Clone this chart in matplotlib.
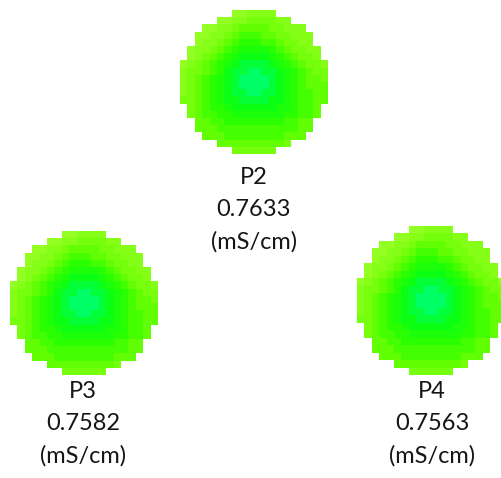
import matplotlib.pyplot as plt
import numpy as np
from matplotlib.colors import LinearSegmentedColormap

# probe names and measured conductivity
probes = ['P2', 'P3', 'P4']
conductivity = [0.7633, 0.7582, 0.7563]
unit = '(mS/cm)'

# cell levels of the conductivity map (0 = edge, 9 = centre, '.' = outside the disc)
map_rows = [
    ".......001111.......",
    ".....0011222211.....",
    "...00112333322111...",
    "..0011234443322111..",
    "..0112345554432211..",
    ".011234566665432211.",
    ".012345677776543221.",
    "01234567888876543221",
    "12234578899887654322",
    "12345678999987654332",
    "12345678999987654333",
    "12345678899887654433",
    "22345677888877654433",
    ".234556777777665443.",
    ".234455666666655443.",
    "..3344555555554433..",
    "..3334444444444433..",
    "...33344444444333...",
    ".....3333333332.....",
    ".......222222.......",
]

def to_grid(rows):
    vals = np.array([[np.nan if ch == '.' else float(ch) for ch in r] for r in rows])
    return np.ma.masked_invalid(vals)

grid = to_grid(map_rows)

cmap = LinearSegmentedColormap.from_list(
    'cond', [(0.0, '#94ff22'), (0.3, '#6cff05'), (0.52, '#30ff00'),
             (0.8, '#08ff14'), (1.0, '#00ff66')])
cmap.set_bad(alpha=0)

# figure in pixel coordinates
W, H = 502, 478
fig = plt.figure(figsize=(W / 100, H / 100), dpi=100)
ax = fig.add_axes([0, 0, 1, 1])
ax.set_xlim(0, W)
ax.set_ylim(H, 0)
ax.axis('off')

# where each disc sits: (left, right, top, bottom) and label centre / first line y
extents = [(180, 328, 10, 154), (10, 158, 231, 375), (357, 505, 226, 375)]
label_x = [254, 83, 432]
label_y = [178, 392, 392]
line_gap = 32

for name, val, ext, lx, ly in zip(probes, conductivity, extents, label_x, label_y):
    l, r, t, b = ext
    ax.imshow(grid, cmap=cmap, vmin=0, vmax=9, interpolation='nearest',
              extent=(l, r, b, t), aspect='auto')
    for k, s in enumerate([name, f'{val:.4f}', unit]):
        ax.text(lx, ly + k * line_gap, s, ha='center', va='center',
                fontsize=17, family='Lato', color='#161616')

ax.set_xlim(0, W)
ax.set_ylim(H, 0)
fig.savefig('out.png', dpi=100)
